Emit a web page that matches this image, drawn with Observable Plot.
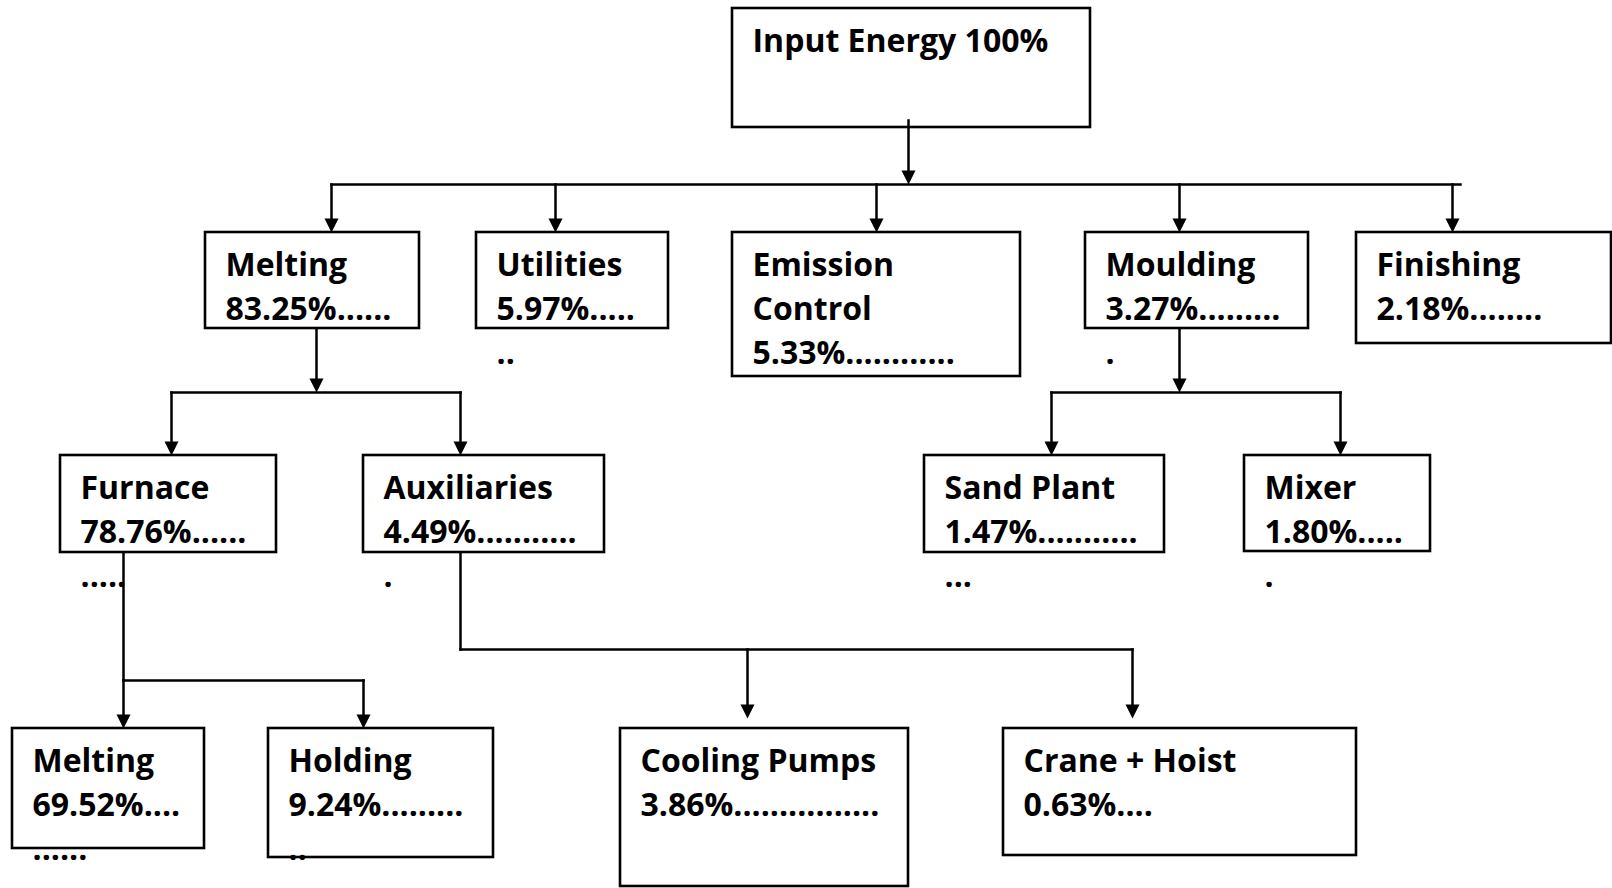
<!DOCTYPE html>
<html>
<head>
<meta charset="utf-8">
<script src="https://cdn.jsdelivr.net/npm/d3@7"></script>
<script src="https://cdn.jsdelivr.net/npm/@observablehq/plot@0.6"></script>
<style>
  html, body { margin: 0; padding: 0; background: #fff; }
  #chart svg { display: block; }
</style>
</head>
<body>
<div id="chart"></div>
<script>
// ---------------- data ----------------
const names   = ["Input Energy", "Melting", "Utilities", "Emission\nControl", "Moulding", "Finishing",
                 "Furnace", "Auxiliaries", "Sand Plant", "Mixer",
                 "Melting", "Holding", "Cooling Pumps", "Crane + Hoist"];
const shares  = ["100%", "83.25%", "5.97%", "5.33%", "3.27%", "2.18%",
                 "78.76%", "4.49%", "1.47%", "1.80%",
                 "69.52%", "9.24%", "3.86%", "0.63%"];
const parents = [null, 0, 0, 0, 0, 0, 1, 1, 4, 4, 6, 6, 7, 7];
// leader dots as printed after the value, and the wrapped dots on the next line
const leaders  = ["", "......", ".....", "............", ".........", "........",
                  "......", "...........", "...........", ".....",
                  "....", ".........", "................", "...."];
const overflow = ["", "", "..", "", ".", "",
                  ".....", ".", "...", ".",
                  "......", "..", "", ""];
const inline   = [true, false, false, false, false, false, false, false, false, false, false, false, false, false];

// ---------------- layout (pixels) ----------------
const W = 1612, H = 888;
const boxes = [ // x1, x2, y1, y2
  [732, 1090, 8, 127],
  [205, 419, 232, 328], [476, 668, 232, 328], [732, 1020, 232, 376], [1085, 1308, 232, 328], [1356, 1611, 232, 343],
  [60, 276, 455, 552], [363, 604, 455, 552], [924, 1164, 455, 552], [1244, 1430, 455, 551],
  [12, 204, 728, 848], [268, 493, 728, 857], [620, 908, 728, 886], [1003, 1356, 728, 855]
];
const inX   = [null, 331, 555, 876, 1179, 1452, 171, 460, 1051, 1340, 123, 363, 747, 1132];
const inGap = [0, 0, 0, 0, 0, 0, 0, 0, 0, 0, 0, 0, 10, 10];
const stems = [
  {node: 0, x: 908,  top: 120, bus: 184, busEnd: 1460, head: true},
  {node: 1, x: 316,  top: 328, bus: 392, head: true},
  {node: 4, x: 1179, top: 328, bus: 392, head: true},
  {node: 6, x: 123,  top: 552, bus: 680, head: false},
  {node: 7, x: 460,  top: 552, bus: 649, head: false}
];
const padX = 20, firstLine = 33, lineStep = 44;

// ---------------- build tables ----------------
const segs = [], tips = [];
for (const s of stems) {
  const kids = parents.map((q, i) => (q === s.node ? i : -1)).filter(i => i >= 0);
  segs.push({x1: s.x, y1: s.top, x2: s.x, y2: s.head ? s.bus - 6 : s.bus});
  if (s.head) tips.push({x: s.x, y: s.bus});
  const xs = [s.x, ...kids.map(k => inX[k])];
  segs.push({x1: d3.min(xs), y1: s.bus, x2: s.busEnd ?? d3.max(xs), y2: s.bus});
  for (const k of kids) {
    const yEnd = boxes[k][2] - inGap[k];
    segs.push({x1: inX[k], y1: s.bus, x2: inX[k], y2: yEnd - 6});
    tips.push({x: inX[k], y: yEnd});
  }
}

const rects = boxes.map((b, i) => ({x1: b[0], x2: b[1], y1: b[2], y2: b[3], name: names[i]}));

const textRows = [];
names.forEach((n, i) => {
  const lines = inline[i]
    ? [n + " " + shares[i] + leaders[i]]
    : [...n.split("\n"), shares[i] + leaders[i]];
  if (overflow[i]) lines.push(overflow[i]);
  lines.forEach((t, j) => textRows.push({x: boxes[i][0] + padX, y: boxes[i][2] + firstLine + lineStep * j, text: t}));
});

const downTriangle = {
  draw(ctx, size) {
    const s = Math.sqrt(size / Math.PI) * 2;
    ctx.moveTo(0, 0);
    ctx.lineTo(-s / 2, -s);
    ctx.lineTo(s / 2, -s);
    ctx.closePath();
  }
};

const chart = Plot.plot({
  width: W,
  height: H,
  margin: 0,
  x: {domain: [0, W], range: [0, W], axis: null},
  y: {domain: [0, H], range: [0, H], axis: null},
  marks: [
    Plot.rect(rects, {x1: "x1", x2: "x2", y1: "y1", y2: "y2", fill: "white", stroke: "black", strokeWidth: 2.6}),
    Plot.link(segs, {x1: "x1", y1: "y1", x2: "x2", y2: "y2", stroke: "black", strokeWidth: 2.5, strokeLinecap: "square"}),
    Plot.dot(tips, {x: "x", y: "y", symbol: downTriangle, r: 7, fill: "black", stroke: "none"}),
    Plot.text(textRows, {
      x: "x", y: "y", text: "text",
      textAnchor: "start", lineAnchor: "middle",
      fontSize: 32, fontWeight: "bold", fontFamily: "'Open Sans', sans-serif", fill: "black"
    })
  ]
});
document.getElementById("chart").appendChild(chart);
</script>
</body>
</html>
